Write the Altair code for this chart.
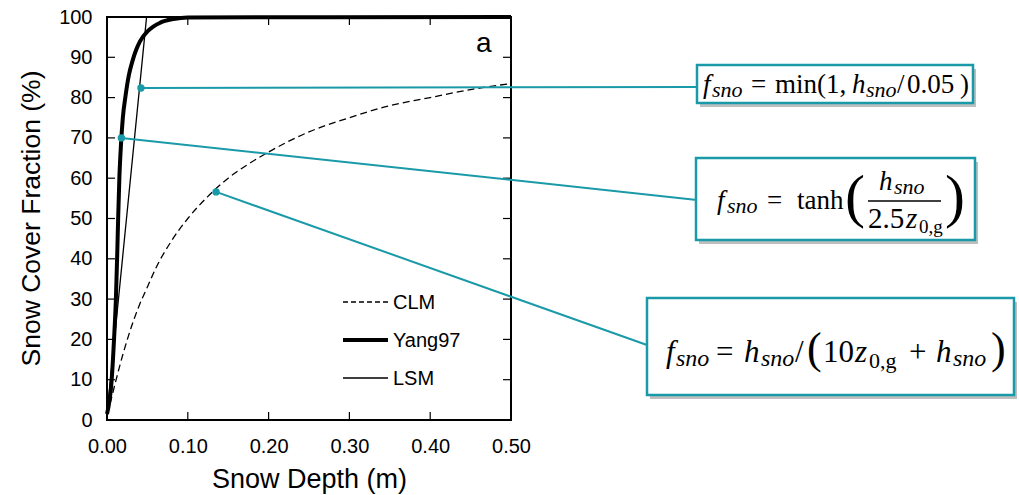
import altair as alt
import pandas as pd

# ---------------- data ----------------
clm_depth = [0.0, 0.005, 0.01, 0.02, 0.03, 0.04, 0.05, 0.06, 0.08, 0.10, 0.125, 0.15,
             0.175, 0.20, 0.25, 0.30, 0.35, 0.40, 0.45, 0.50]
clm_frac = [1.5, 5.0, 9.0, 16.5, 23.0, 28.5, 33.0, 37.5, 44.5, 50.0, 55.5, 60.0,
            63.5, 66.5, 71.5, 75.0, 78.0, 80.0, 82.0, 83.5]

yang_depth = [0.0, 0.0058, 0.0087, 0.011, 0.0125, 0.0138, 0.0153, 0.0172, 0.0196, 0.023,
              0.027, 0.0314, 0.036, 0.041, 0.051, 0.066, 0.082, 0.10, 0.50]
yang_frac = [1.5, 10.0, 20.0, 30.0, 40.0, 50.0, 60.0, 68.0, 75.0, 80.5,
             85.5, 89.0, 91.8, 94.0, 96.6, 98.6, 99.5, 99.9, 100.0]

lsm_depth = [0.0, 0.049, 0.50]
lsm_frac = [1.5, 100.0, 100.0]

legend_names = ["CLM", "Yang97", "LSM"]

marker_model = ["LSM", "Yang97", "CLM"]
marker_depth = [0.042, 0.0178, 0.135]
marker_frac = [82.4, 70.0, 56.6]

x_tick_values = [0.0, 0.1, 0.2, 0.3, 0.4, 0.5]
y_tick_values = [0, 10, 20, 30, 40, 50, 60, 70, 80, 90, 100]
inner_x_ticks = [0.1, 0.2, 0.3, 0.4]
inner_y_ticks = [10, 20, 30, 40, 50, 60, 70, 80, 90]

# ---------------- layout / style ----------------
W, H = 404, 403
OX, OY = 107, 17          # plot origin on the page
TEAL = "#1a9aa8"
SANS = "Liberation Sans"
SERIF = "Liberation Serif"
TICK = 8

dummy = pd.DataFrame({"depth": [0.0], "frac": [0.0]})

xscale = alt.Scale(domain=[0, 0.5], nice=False, zero=True)
yscale = alt.Scale(domain=[0, 100], nice=False, zero=True)

X = alt.X("depth:Q", scale=xscale,
          axis=alt.Axis(values=x_tick_values, format=".2f", ticks=False, domain=False,
                        grid=False, labelFlush=False, labelOverlap=False,
                        labelFont=SANS, labelFontSize=20, labelColor="black",
                        labelPadding=16, title="Snow Depth (m)", titleFont=SANS,
                        titleFontSize=27, titleFontWeight="normal", titleColor="black",
                        titleY=67, titleBaseline="alphabetic"))
Y = alt.Y("frac:Q", scale=yscale,
          axis=alt.Axis(values=y_tick_values, format="d", ticks=False, domain=False,
                        grid=False, labelFlush=False, labelOverlap=False,
                        labelFont=SANS, labelFontSize=20, labelColor="black",
                        labelPadding=15, title="Snow Cover Fraction (%)", titleFont=SANS,
                        titleFontSize=26.5, titleFontWeight="normal", titleColor="black",
                        titleX=-68, titleY=201, titleBaseline="alphabetic",
                        titleAlign="center", titleAngle=270))


def px(x):
    return alt.value(x - OX)


def py(y):
    return alt.value(y - OY)


def txt(s, x, y, size, italic=False, font=SERIF, baseline="alphabetic", align="left"):
    return alt.Chart(dummy).mark_text(
        text=s, font=font, fontSize=size, fontStyle="italic" if italic else "normal",
        align=align, baseline=baseline, color="black"
    ).encode(x=px(x), y=py(y))


curves = pd.DataFrame({
    "depth": clm_depth + yang_depth + lsm_depth,
    "frac": clm_frac + yang_frac + lsm_frac,
    "model": ["CLM"] * len(clm_depth) + ["Yang97"] * len(yang_depth) + ["LSM"] * len(lsm_depth),
})
markers = pd.DataFrame({"depth": marker_depth, "frac": marker_frac, "model": marker_model})

base = alt.Chart(curves)
clm_line = base.transform_filter(alt.datum.model == "CLM").mark_line(
    color="black", strokeWidth=1.3, strokeDash=[7, 4], interpolate="monotone"
).encode(x=X, y=Y, order="depth:Q")
yang_line = base.transform_filter(alt.datum.model == "Yang97").mark_line(
    color="black", strokeWidth=4, interpolate="monotone"
).encode(x="depth:Q", y="frac:Q", order="depth:Q")
lsm_line = base.transform_filter(alt.datum.model == "LSM").mark_line(
    color="black", strokeWidth=1.3).encode(x="depth:Q", y="frac:Q", order="depth:Q")

# inward ticks on all four sides
xt = alt.Chart(pd.DataFrame({"depth": inner_x_ticks}))
yt = alt.Chart(pd.DataFrame({"frac": inner_y_ticks}))
ticks = [
    xt.mark_rule(color="black", strokeWidth=1.2).encode(x="depth:Q", y=alt.value(H), y2=alt.value(H - TICK)),
    xt.mark_rule(color="black", strokeWidth=1.2).encode(x="depth:Q", y=alt.value(0), y2=alt.value(TICK)),
    yt.mark_rule(color="black", strokeWidth=1.2).encode(y="frac:Q", x=alt.value(0), x2=alt.value(TICK)),
    yt.mark_rule(color="black", strokeWidth=1.2).encode(y="frac:Q", x=alt.value(W), x2=alt.value(W - TICK)),
]

# legend (manual, inside the plot)
leg_y = [302, 340, 378]
leg_dash = [[5, 3], [1, 0], [1, 0]]
leg_w = [1.3, 4, 1.3]
legend_layers = []
for i, name in enumerate(legend_names):
    legend_layers.append(
        alt.Chart(dummy).mark_rule(color="black", strokeWidth=leg_w[i], strokeDash=leg_dash[i])
        .encode(x=px(343), x2=px(388), y=py(leg_y[i])))
    legend_layers.append(txt(name, 393, leg_y[i] + 1, 20, font=SANS, baseline="middle"))

panel_label = txt("a", 476, 52, 28, font=SANS)

# connectors + markers
conn_end = {"LSM": (697, 87), "Yang97": (697, 200), "CLM": (647, 345)}
connectors = []
for m, (ex, ey) in conn_end.items():
    connectors.append(
        alt.Chart(markers).transform_filter(alt.datum.model == m)
        .mark_rule(color=TEAL, strokeWidth=2)
        .encode(x="depth:Q", y="frac:Q", x2=px(ex), y2=py(ey)))
dots = alt.Chart(markers).mark_circle(color=TEAL, opacity=1, size=55).encode(x="depth:Q", y="frac:Q")

# annotation boxes (x0, x1, y0, y1 on the page)
boxes = [(697, 973, 65, 103), (696, 975, 158, 240), (647, 1014, 298, 395)]
box_layers = []
for (x0, x1, y0, y1) in boxes:
    box_layers.append(alt.Chart(dummy).mark_rect(color="#8a8a8a", opacity=0.55)
                      .encode(x=px(x0 + 3), x2=px(x1 + 3), y=py(y0 + 4), y2=py(y1 + 4)))
    box_layers.append(alt.Chart(dummy).mark_rect(fill="white", stroke=TEAL, strokeWidth=2.5)
                      .encode(x=px(x0), x2=px(x1), y=py(y0), y2=py(y1)))

# formula pieces: text, x, baseline y, size, italic
formula_pieces = [
    # f_sno = min(1, h_sno/0.05)
    ("f", 703, 93, 27, True), ("sno", 712, 97, 22, True), ("=", 751, 93, 27, False),
    ("min(1,", 775, 93, 27, False), ("h", 852, 93, 27, True), ("sno", 866, 97, 22, True),
    ("/", 897, 93, 27, False), ("0.05", 907, 93, 27, False), (")", 960, 93, 27, False),
    # f_sno = tanh( h_sno / 2.5 z_0,g )
    ("f", 717, 209, 27, True), ("sno", 727, 213, 22, True), ("=", 767, 209, 27, False),
    ("tanh", 797, 209, 27, False), ("(", 845, 216, 60, False),
    ("h", 879, 190, 27, True), ("sno", 894, 194, 22, True),
    ("2.5", 868, 228, 29, False), ("z", 906, 228, 29, True), ("0,g", 919, 233, 19, False),
    (")", 945, 216, 60, False),
    # f_sno = h_sno/(10 z_0,g + h_sno)
    ("f", 666, 362, 31, True), ("sno", 676, 366, 24, True), ("=", 716, 362, 31, False),
    ("h", 744, 362, 31, True), ("sno", 761, 366, 24, True), ("/", 795, 362, 31, False),
    ("(", 807, 363, 44, False), ("10", 823, 362, 31, False), ("z", 855, 362, 31, True),
    ("0,g", 869, 368, 22, False), ("+", 909, 362, 31, False), ("h", 936, 362, 31, True),
    ("sno", 953, 366, 24, True), (")", 991, 363, 44, False),
]
formula_layers = [txt(s, x, y, sz, it) for (s, x, y, sz, it) in formula_pieces]
frac_bar = alt.Chart(dummy).mark_rule(color="black", strokeWidth=1.5).encode(
    x=px(868), x2=px(941), y=py(201), y2=py(201))

chart = alt.layer(
    clm_line, yang_line, lsm_line, *ticks, *legend_layers, panel_label,
    *connectors, *box_layers, dots, *formula_layers, frac_bar,
).properties(
    width=W, height=H,
    autosize=alt.AutoSizeParams(type="none"),
    padding={"left": OX, "top": OY, "right": 1019 - OX - W, "bottom": 495 - OY - H},
    background="white",
).configure_view(stroke="black", strokeWidth=2)

chart.save("out.html", embed_options={"renderer": "svg", "actions": False})
